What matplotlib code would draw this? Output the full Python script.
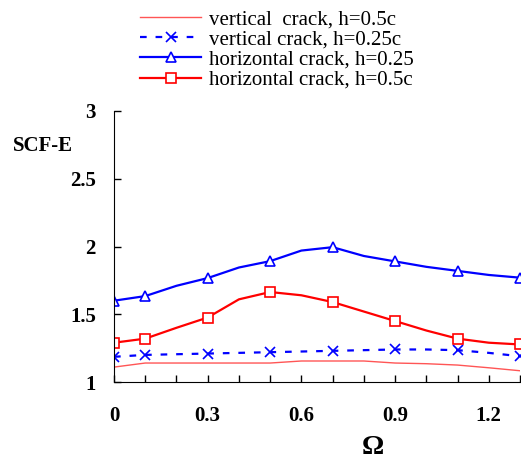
import matplotlib
matplotlib.use('Agg')
import matplotlib.pyplot as plt
import numpy as np

omega = [0.0, 0.1, 0.2, 0.3, 0.4, 0.5, 0.6, 0.7, 0.8, 0.9, 1.0, 1.1, 1.2, 1.3]

vert_05 = [1.11, 1.14, 1.14, 1.14, 1.14, 1.14, 1.155, 1.155, 1.155, 1.14, 1.135, 1.125, 1.105, 1.083]
vert_025 = [1.186, 1.20, 1.205, 1.21, 1.215, 1.22, 1.225, 1.23, 1.235, 1.24, 1.24, 1.235, 1.215, 1.19]
horiz_025 = [1.60, 1.634, 1.71, 1.767, 1.845, 1.892, 1.97, 1.995, 1.93, 1.89, 1.85, 1.82, 1.79, 1.77]
horiz_05 = [1.29, 1.32, 1.40, 1.476, 1.61, 1.664, 1.64, 1.59, 1.52, 1.45, 1.38, 1.32, 1.29, 1.277]

marker_idx = [0, 1, 3, 5, 7, 9, 11, 13]

labels = ["vertical  crack, h=0.5c", "vertical crack, h=0.25c",
          "horizontal crack, h=0.25", "horizontal crack, h=0.5c"]

plt.rcParams['font.family'] = ['Liberation Serif', 'DejaVu Serif']

fig = plt.figure(figsize=(5.21, 4.63), dpi=100)
ax = fig.add_axes([114/521, 81/463, 406/521, 271/463])

l1, = ax.plot(omega, vert_05, color='#ff5555', lw=1.0)
l2, = ax.plot(omega, vert_025, color='#0000ff', lw=1.6, ls=(0, (3, 4)),
              marker='x', ms=7, mew=1.2, markevery=marker_idx)
l3, = ax.plot(omega, horiz_025, color='#0000ff', lw=1.6, marker='^', ms=7,
              mfc='white', mew=1.2, markevery=marker_idx)
l4, = ax.plot(omega, horiz_05, color='#ff0000', lw=1.6, marker='s', ms=7,
              mfc='white', mew=1.2, markevery=marker_idx)

ax.set_xlim(0, 1.3)
ax.set_ylim(1, 3)
ax.set_xticks([0, 0.3, 0.6, 0.9, 1.2])
ax.set_xticklabels(["0", "0.3", "0.6", "0.9", "1.2"])
ax.set_xticks(np.arange(0, 1.31, 0.1), minor=True)
ax.set_yticks([1, 1.5, 2, 2.5, 3])
ax.set_yticklabels(["1", "1.5", "2", "2.5", "3"])

for s in ['top', 'right']:
    ax.spines[s].set_visible(False)
ax.tick_params(axis='both', which='both', direction='in', length=5, width=1)
ax.tick_params(axis='x', pad=17, labelsize=15)
ax.tick_params(axis='y', pad=13, labelsize=15)
for t in ax.get_xticklabels() + ax.get_yticklabels():
    t.set_fontweight('bold')

fig.text(13/521, 1 - 146/463, "SCF-E", fontsize=15, fontweight='bold',
         ha='left', va='center')
fig.text(373/521, 1 - 448/463, "\u03a9", fontsize=20, fontweight='bold',
         ha='center', va='center')

leg = fig.legend([l1, l2, l3, l4], labels, loc='upper left',
                 bbox_to_anchor=(132/521, 0.997), frameon=False, fontsize=15,
                 handlelength=2.9, handletextpad=0.4, labelspacing=0.03,
                 borderaxespad=0)

fig.savefig("out.png", dpi=100)
